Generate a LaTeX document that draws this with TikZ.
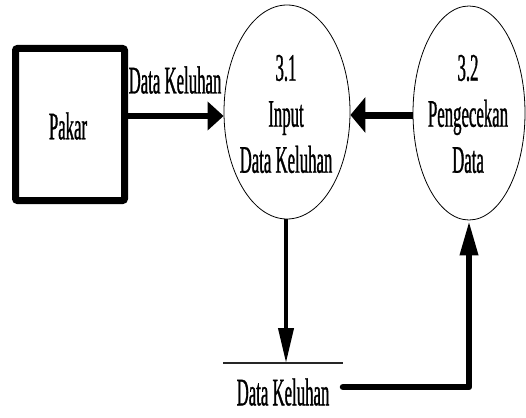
\documentclass[tikz,border=0pt]{standalone}
\usepackage{fontspec}
\setmainfont{Liberation Serif}[FakeStretch=0.43,FakeBold=0.8]
\usetikzlibrary{shapes.geometric,arrows.meta}
\tikzset{
  txt/.style={font=\fontsize{39}{46}\selectfont, inner sep=0pt, align=center},
  proc/.style={draw=black, line width=0.8pt, ellipse, inner sep=0pt},
  extent/.style={draw=black, line width=7pt, rounded corners=2pt, inner sep=0pt},
  bigflow/.style={line width=6.5pt, -{Triangle[length=16pt,width=28pt]}},
  thinflow/.style={line width=4pt, -{Triangle[length=35pt,width=15pt]}},
}
\begin{document}
\begin{tikzpicture}[x=1pt,y=-1pt]
  \useasboundingbox (0,0) rectangle (526,417);

  % external entity
  \node[extent, minimum width=109pt, minimum height=152pt] (pakar) at (70,124.5) {};
  \node[txt] (pakartxt) at (68,126) {Pakar};

  % processes
  \node[proc, minimum width=126pt, minimum height=214pt] (p31) at (287,112) {};
  \node[txt] (p31txt) at (286,114) {3.1\\Input\\Data Keluhan};
  \node[proc, minimum width=112pt, minimum height=214pt] (p32) at (469,113) {};
  \node[txt] (p32txt) at (468,114) {3.2\\Pengecekan\\Data};

  % data store
  \coordinate (storeL) at (223,363);
  \coordinate (storeR) at (343,363);
  \draw[line width=1.3pt, black!85] (storeL) -- (storeR);
  \node[txt] (storetxt) at (283,392) {Data Keluhan};

  % flows
  \draw[bigflow] (pakar.east |- 0,116) -- (p31.west |- 0,116);
  \node[txt, anchor=south] (lbl) at (175,94) {Data Keluhan};

  \draw[line width=7pt, -{Triangle[length=15pt,width=35pt]}] (p32.west |- 0,115) -- (p31.east |- 0,115);

  \draw[thinflow] (p31.south -| 286,0) -- (286,363);

  \coordinate (bend) at (469,387);
  \draw[line width=6.5pt, line cap=round, line join=round, -{Triangle[length=35pt,width=17pt]}]
    (343,387) -- (bend) -- (p32.south);
\end{tikzpicture}
\end{document}
